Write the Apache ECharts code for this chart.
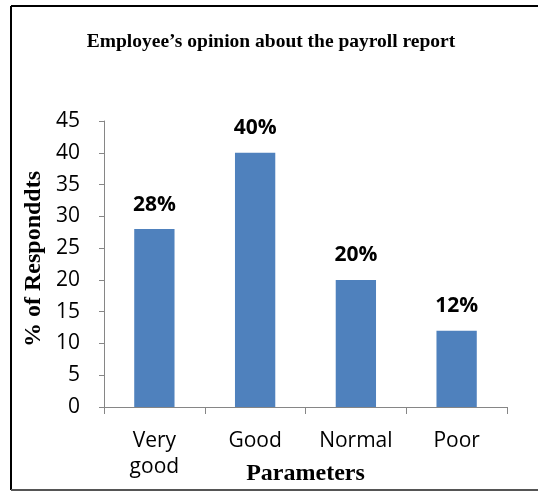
<!DOCTYPE html>
<html>
<head>
<meta charset="utf-8">
<script src="https://cdn.jsdelivr.net/npm/echarts@6/dist/echarts.min.js"></script>
<style>html,body{margin:0;padding:0;background:#fff;}#chart{width:538px;height:492px;}</style>
</head>
<body>
<div id="chart"></div>
<script>
const categories = ['Very\ngood', 'Good', 'Normal', 'Poor'];
const values = [28, 40, 20, 12];
const yTicks = [0, 5, 10, 15, 20, 25, 30, 35, 40, 45];
const titleText = 'Employee\u2019s opinion about the payroll report';
const yName = '% of Responddts';
const xName = 'Parameters';

const chart = echarts.init(document.getElementById('chart'), null, {renderer: 'canvas'});
chart.setOption({
  animation: false,
  backgroundColor: '#fff',
  title: {
    text: titleText,
    left: 266, top: 27, textAlign: 'center',
    textStyle: {fontFamily: 'Liberation Serif', fontWeight: 'bold', fontSize: 19.5, color: '#000'}
  },
  grid: {left: 104, right: 31, top: 121, bottom: 85, containLabel: false, outerBoundsMode: 'none'},
  xAxis: {
    type: 'category',
    data: categories,
    boundaryGap: true,
    axisLine: {lineStyle: {color: '#868686', width: 1}},
    axisTick: {show: true, length: 7, lineStyle: {color: '#868686'}},
    axisLabel: {fontFamily: 'Open Sans', fontSize: 21, color: '#000', margin: 21, lineHeight: 26},
    name: xName, nameLocation: 'middle', nameGap: 55, nameMoveOverlap: false,
    nameTextStyle: {fontFamily: 'Liberation Serif', fontWeight: 'bold', fontSize: 24, color: '#000'}
  },
  yAxis: {
    type: 'value',
    min: yTicks[0], max: yTicks[yTicks.length - 1], interval: 5,
    axisLine: {show: true, lineStyle: {color: '#868686', width: 1}},
    axisTick: {show: true, length: 5, lineStyle: {color: '#868686'}},
    splitLine: {show: false},
    axisLabel: {fontFamily: 'Open Sans', fontSize: 21, color: '#000', margin: 24},
    name: yName, nameLocation: 'middle', nameGap: 58, nameRotate: 90, nameMoveOverlap: false,
    nameTextStyle: {fontFamily: 'Liberation Serif', fontWeight: 'bold', fontSize: 24, color: '#000', padding: [0, 0, 0, 10]}
  },
  series: [{
    type: 'bar',
    data: values,
    barWidth: '40%',
    itemStyle: {color: '#4F81BD'},
    label: {
      show: true, position: 'top', distance: 14,
      formatter: p => p.value + '%',
      fontFamily: 'Open Sans', fontWeight: 'bold', fontSize: 21, color: '#000'
    }
  }],
  graphic: [
    {type: 'line', shape: {x1: 11, y1: 6, x2: 538, y2: 6}, style: {stroke: '#000', lineWidth: 2}},
    {type: 'line', shape: {x1: 11, y1: 6, x2: 11, y2: 490}, style: {stroke: '#000', lineWidth: 2}},
    {type: 'line', shape: {x1: 11, y1: 490, x2: 538, y2: 490}, style: {stroke: '#555', lineWidth: 2}}
  ]
});
</script>
</body>
</html>
